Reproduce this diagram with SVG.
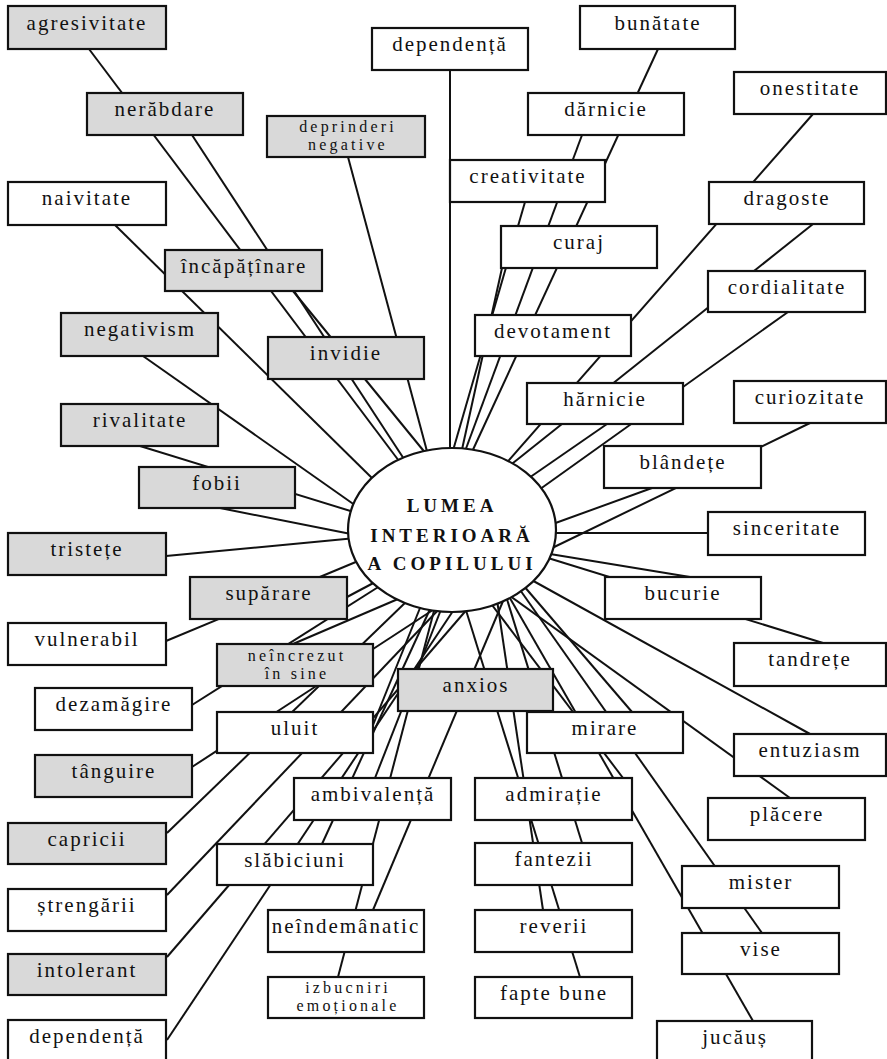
<svg xmlns="http://www.w3.org/2000/svg" width="887" height="1059" viewBox="0 0 887 1059">
<style>
  .bg { fill: #ffffff; }
  .node rect { fill: #ffffff; stroke: #111; stroke-width: 2.2; }
  .node.grey rect { fill: #d9d9d9; }
  .node text { font-family: "Liberation Serif", "DejaVu Serif", serif; font-size: 21px; letter-spacing: 2px; text-anchor: middle; fill: #111; }
  .node text.two { font-size: 16px; letter-spacing: 3.2px; }
  #connectors line { stroke: #111; stroke-width: 2; }
  #center ellipse { fill: #ffffff; stroke: #111; stroke-width: 2.2; }
  #center text { font-family: "Liberation Serif", "DejaVu Serif", serif; font-size: 19px; font-weight: bold; letter-spacing: 4px; text-anchor: middle; fill: #111; }
</style>
<rect class="bg" x="0" y="0" width="887" height="1059"/>

<!-- spokes from the central ellipse to every trait box -->
<g id="connectors">
  <line x1="89" y1="49" x2="399" y2="461"/>
  <line x1="192" y1="135" x2="404" y2="459"/>
  <line x1="115" y1="225" x2="375" y2="481"/>
  <line x1="293" y1="291" x2="427" y2="455"/>
  <line x1="348" y1="157" x2="428" y2="455"/>
  <line x1="450" y1="70" x2="450" y2="456"/>
  <line x1="143" y1="356" x2="359" y2="508"/>
  <line x1="140" y1="446" x2="357" y2="513"/>
  <line x1="220" y1="508" x2="356" y2="535"/>
  <line x1="166" y1="556" x2="356" y2="538"/>
  <line x1="166" y1="641" x2="363" y2="559"/>
  <line x1="347" y1="597" x2="379" y2="580"/>
  <line x1="192" y1="705" x2="383" y2="584"/>
  <line x1="293" y1="644" x2="398" y2="599"/>
  <line x1="192" y1="767" x2="439" y2="606"/>
  <line x1="373" y1="725" x2="422" y2="603"/>
  <line x1="167" y1="833" x2="408" y2="600"/>
  <line x1="167" y1="895" x2="441" y2="607"/>
  <line x1="167" y1="957" x2="469" y2="607"/>
  <line x1="167" y1="1040" x2="455" y2="608"/>
  <line x1="322" y1="844" x2="431" y2="607"/>
  <line x1="375" y1="778" x2="442" y2="607"/>
  <line x1="373" y1="910" x2="506" y2="594"/>
  <line x1="338" y1="977" x2="435" y2="607"/>
  <line x1="623" y1="778" x2="489" y2="601"/>
  <line x1="582" y1="843" x2="506" y2="596"/>
  <line x1="543" y1="910" x2="497" y2="600"/>
  <line x1="580" y1="977" x2="465" y2="607"/>
  <line x1="632" y1="712" x2="523" y2="585"/>
  <line x1="762" y1="933" x2="518" y2="587"/>
  <line x1="753" y1="1021" x2="507" y2="593"/>
  <line x1="810" y1="734" x2="528" y2="578"/>
  <line x1="790" y1="798" x2="506" y2="593"/>
  <line x1="823" y1="643" x2="548" y2="558"/>
  <line x1="690" y1="577" x2="550" y2="554"/>
  <line x1="708" y1="533" x2="550" y2="533"/>
  <line x1="652" y1="488" x2="550" y2="525"/>
  <line x1="810" y1="423" x2="548" y2="550"/>
  <line x1="788" y1="312" x2="536" y2="492"/>
  <line x1="607" y1="424" x2="526" y2="480"/>
  <line x1="813" y1="224" x2="508" y2="467"/>
  <line x1="813" y1="114" x2="503" y2="467"/>
  <line x1="502" y1="268" x2="461" y2="454"/>
  <line x1="525" y1="202" x2="452" y2="454"/>
  <line x1="582" y1="135" x2="464" y2="454"/>
  <line x1="658" y1="49" x2="471" y2="454"/>
</g>

<g id="center">
  <ellipse cx="452" cy="530" rx="104" ry="82"/>
  <text x="452" y="512">LUMEA</text>
  <text x="452" y="542">INTERIOARĂ</text>
  <text x="452" y="570">A COPILULUI</text>
</g>

<g id="n-agresivitate" class="node grey"><rect x="8" y="6" width="158" height="43"/><text x="87" y="30">agresivitate</text></g>
<g id="n-nerabdare" class="node grey"><rect x="87" y="93" width="156" height="42"/><text x="165" y="116">nerăbdare</text></g>
<g id="n-naivitate" class="node"><rect x="8" y="182" width="158" height="43"/><text x="87" y="205">naivitate</text></g>
<g id="n-dependenta-sus" class="node"><rect x="372" y="28" width="156" height="42"/><text x="450" y="51">dependență</text></g>
<g id="n-deprinderi" class="node grey"><rect x="267" y="116" width="158" height="41"/><text class="two" x="348" y="132">deprinderi</text><text class="two" x="348" y="150">negative</text></g>
<g id="n-bunatate" class="node"><rect x="580" y="6" width="155" height="43"/><text x="658" y="30">bunătate</text></g>
<g id="n-darnicie" class="node"><rect x="528" y="93" width="156" height="42"/><text x="606" y="116">dărnicie</text></g>
<g id="n-creativitate" class="node"><rect x="450" y="160" width="155" height="42"/><text x="528" y="183">creativitate</text></g>
<g id="n-onestitate" class="node"><rect x="734" y="72" width="152" height="42"/><text x="810" y="95">onestitate</text></g>
<g id="n-dragoste" class="node"><rect x="709" y="182" width="155" height="42"/><text x="787" y="205">dragoste</text></g>
<g id="n-curaj" class="node"><rect x="501" y="226" width="156" height="42"/><text x="579" y="249">curaj</text></g>
<g id="n-incapatinare" class="node grey"><rect x="165" y="250" width="157" height="41"/><text x="244" y="273">încăpățînare</text></g>
<g id="n-devotament" class="node"><rect x="475" y="315" width="156" height="41"/><text x="553" y="338">devotament</text></g>
<g id="n-cordialitate" class="node"><rect x="708" y="271" width="157" height="41"/><text x="787" y="294">cordialitate</text></g>
<g id="n-negativism" class="node grey"><rect x="61" y="313" width="157" height="43"/><text x="140" y="336">negativism</text></g>
<g id="n-invidie" class="node grey"><rect x="268" y="337" width="156" height="42"/><text x="346" y="360">invidie</text></g>
<g id="n-harnicie" class="node"><rect x="527" y="383" width="156" height="41"/><text x="605" y="406">hărnicie</text></g>
<g id="n-curiozitate" class="node"><rect x="734" y="381" width="152" height="42"/><text x="810" y="404">curiozitate</text></g>
<g id="n-rivalitate" class="node grey"><rect x="61" y="404" width="157" height="42"/><text x="140" y="427">rivalitate</text></g>
<g id="n-fobii" class="node grey"><rect x="139" y="467" width="156" height="41"/><text x="217" y="490">fobii</text></g>
<g id="n-blandete" class="node"><rect x="604" y="446" width="157" height="42"/><text x="683" y="469">blândețe</text></g>
<g id="n-sinceritate" class="node"><rect x="708" y="512" width="157" height="43"/><text x="787" y="535">sinceritate</text></g>
<g id="n-tristete" class="node grey"><rect x="8" y="533" width="158" height="42"/><text x="87" y="556">tristețe</text></g>
<g id="n-suparare" class="node grey"><rect x="190" y="577" width="157" height="42"/><text x="269" y="600">supărare</text></g>
<g id="n-bucurie" class="node"><rect x="605" y="577" width="156" height="42"/><text x="683" y="600">bucurie</text></g>
<g id="n-vulnerabil" class="node"><rect x="8" y="623" width="158" height="42"/><text x="87" y="646">vulnerabil</text></g>
<g id="n-neincrezut" class="node grey"><rect x="217" y="644" width="156" height="42"/><text class="two" x="297" y="661">neîncrezut</text><text class="two" x="297" y="679">în sine</text></g>
<g id="n-tandrete" class="node"><rect x="734" y="643" width="152" height="43"/><text x="810" y="666">tandrețe</text></g>
<g id="n-anxios" class="node grey"><rect x="398" y="669" width="155" height="42"/><text x="476" y="692">anxios</text></g>
<g id="n-dezamagire" class="node"><rect x="35" y="688" width="157" height="42"/><text x="114" y="711">dezamăgire</text></g>
<g id="n-uluit" class="node"><rect x="217" y="712" width="156" height="41"/><text x="295" y="735">uluit</text></g>
<g id="n-mirare" class="node"><rect x="527" y="712" width="156" height="41"/><text x="605" y="735">mirare</text></g>
<g id="n-entuziasm" class="node"><rect x="734" y="734" width="152" height="42"/><text x="810" y="757">entuziasm</text></g>
<g id="n-tanguire" class="node grey"><rect x="35" y="755" width="157" height="42"/><text x="114" y="778">tânguire</text></g>
<g id="n-ambivalenta" class="node"><rect x="294" y="778" width="157" height="42"/><text x="373" y="801">ambivalență</text></g>
<g id="n-admiratie" class="node"><rect x="475" y="778" width="157" height="42"/><text x="554" y="801">admirație</text></g>
<g id="n-placere" class="node"><rect x="708" y="798" width="157" height="42"/><text x="787" y="821">plăcere</text></g>
<g id="n-capricii" class="node grey"><rect x="8" y="823" width="158" height="41"/><text x="87" y="846">capricii</text></g>
<g id="n-slabiciuni" class="node"><rect x="217" y="844" width="156" height="41"/><text x="295" y="867">slăbiciuni</text></g>
<g id="n-fantezii" class="node"><rect x="475" y="843" width="157" height="42"/><text x="554" y="866">fantezii</text></g>
<g id="n-mister" class="node"><rect x="682" y="866" width="157" height="42"/><text x="761" y="889">mister</text></g>
<g id="n-strengarii" class="node"><rect x="8" y="889" width="158" height="42"/><text x="87" y="912">ștrengării</text></g>
<g id="n-neindemanatic" class="node"><rect x="268" y="910" width="156" height="42"/><text x="346" y="933">neîndemânatic</text></g>
<g id="n-reverii" class="node"><rect x="475" y="910" width="157" height="42"/><text x="554" y="933">reverii</text></g>
<g id="n-vise" class="node"><rect x="682" y="933" width="157" height="41"/><text x="761" y="956">vise</text></g>
<g id="n-intolerant" class="node grey"><rect x="8" y="954" width="158" height="41"/><text x="87" y="977">intolerant</text></g>
<g id="n-izbucniri" class="node"><rect x="268" y="977" width="156" height="41"/><text class="two" x="348" y="993">izbucniri</text><text class="two" x="348" y="1011">emoționale</text></g>
<g id="n-fapte-bune" class="node"><rect x="475" y="977" width="157" height="41"/><text x="554" y="1000">fapte bune</text></g>
<g id="n-dependenta-jos" class="node"><rect x="8" y="1020" width="158" height="45"/><text x="87" y="1043">dependență</text></g>
<g id="n-jucaus" class="node"><rect x="657" y="1021" width="155" height="45"/><text x="735" y="1044">jucăuș</text></g>
</svg>
